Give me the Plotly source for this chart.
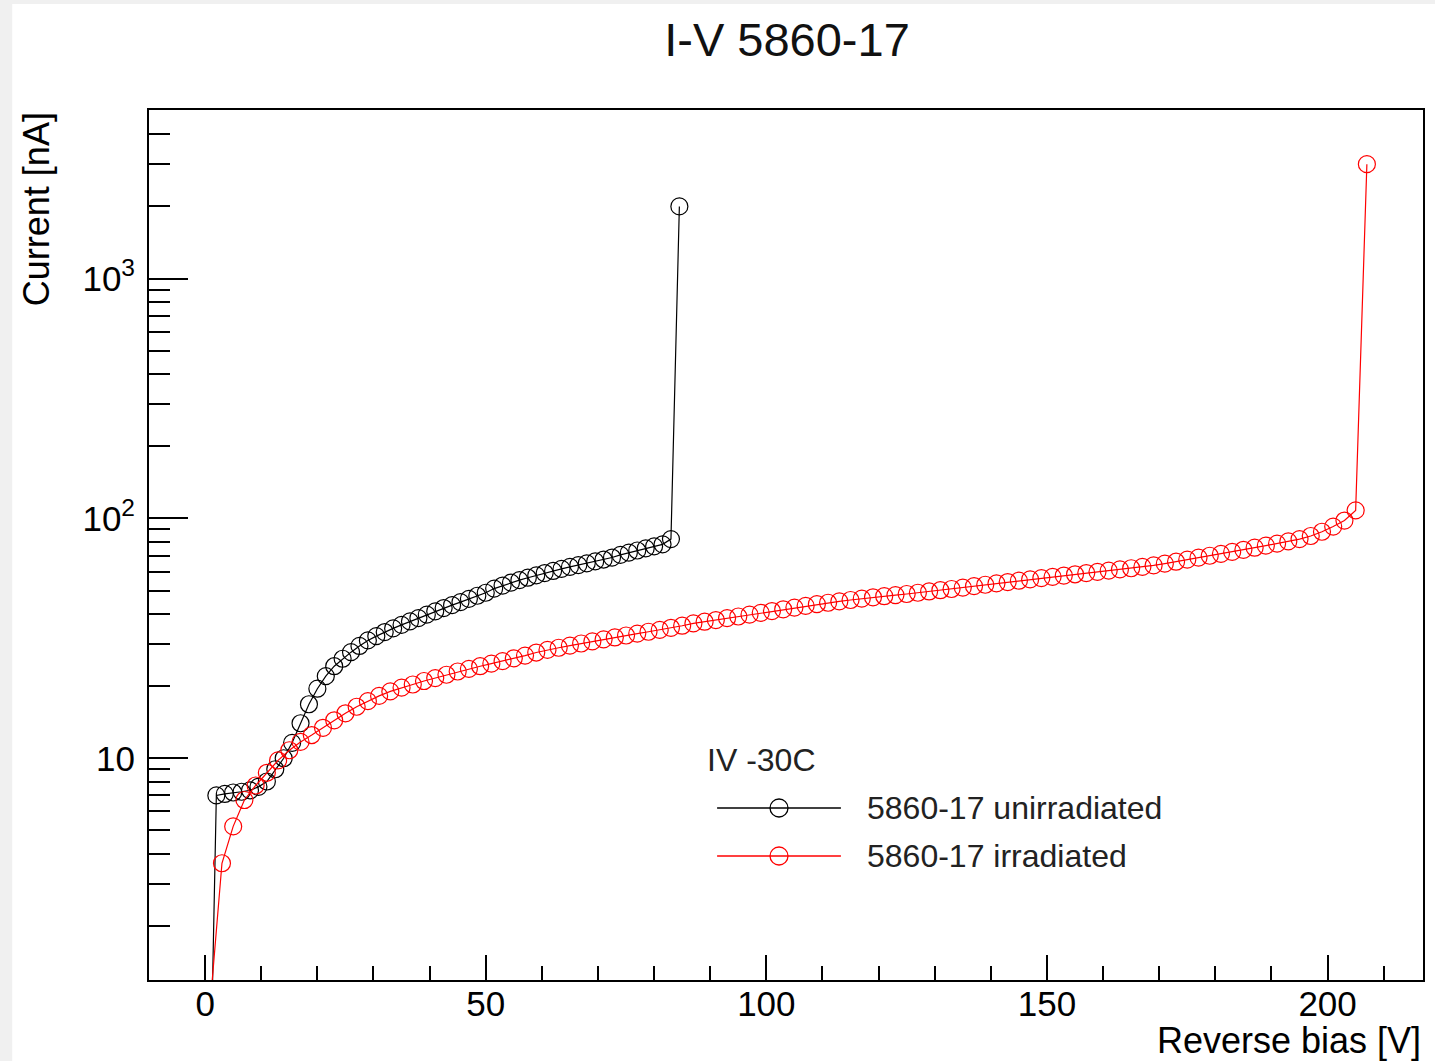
import plotly.graph_objects as go

# ---------------- data ----------------
v_unirr = [0.5, 2, 3.5, 5, 6.5, 8, 9.5, 11, 12.5, 14, 15.5, 17, 18.5, 20, 21.5, 23, 24.5, 26,
           27.5, 29, 30.5, 32, 33.5, 35, 36.5, 38, 39.5, 41, 42.5, 44, 45.5, 47, 48.5, 50,
           51.5, 53, 54.5, 56, 57.5, 59, 60.5, 62, 63.5, 65, 66.5, 68, 69.5, 71, 72.5, 74,
           75.5, 77, 78.5, 80, 81.5, 83, 84.5]
i_unirr = [0.13, 7.0, 7.1, 7.2, 7.25, 7.35, 7.6, 8.0, 9.0, 10.0, 11.6, 14.0, 16.8, 19.5, 22.0,
           24.2, 26.0, 27.7, 29.4, 31.0, 32.3, 33.6, 34.8, 36.0, 37.2, 38.4, 39.7, 41.0, 42.3,
           43.5, 44.8, 46.2, 47.6, 49.0, 51.0, 52.5, 54.0, 55.3, 56.6, 57.9, 59.2, 60.4, 61.6,
           62.8, 63.9, 65.0, 66.2, 67.4, 68.7, 70.5, 72.0, 73.5, 75.0, 76.5, 78.0, 82.0, 2000]

v_irr = [1, 3, 5, 7, 9, 11, 13, 15, 17, 19, 21, 23, 25, 27, 29, 31, 33, 35, 37, 39, 41, 43, 45,
         47, 49, 51, 53, 55, 57, 59, 61, 63, 65, 67, 69, 71, 73, 75, 77, 79, 81, 83, 85, 87, 89,
         91, 93, 95, 97, 99, 101, 103, 105, 107, 109, 111, 113, 115, 117, 119, 121, 123, 125,
         127, 129, 131, 133, 135, 137, 139, 141, 143, 145, 147, 149, 151, 153, 155, 157, 159,
         161, 163, 165, 167, 169, 171, 173, 175, 177, 179, 181, 183, 185, 187, 189, 191, 193,
         195, 197, 199, 201, 203, 205, 207]
i_irr = [1.0, 3.65, 5.2, 6.7, 7.7, 8.7, 9.8, 10.8, 11.7, 12.5, 13.4, 14.4, 15.4, 16.4, 17.3,
         18.2, 19.0, 19.7, 20.3, 21.0, 21.6, 22.3, 23.0, 23.6, 24.2, 24.8, 25.4, 26.1, 26.8,
         27.6, 28.3, 28.9, 29.5, 30.1, 30.7, 31.3, 31.9, 32.5, 33.1, 33.7, 34.3, 35.0, 35.7,
         36.5, 37.1, 37.7, 38.4, 39.0, 39.7, 40.4, 41.1, 41.8, 42.5, 43.2, 43.9, 44.5, 45.1,
         45.7, 46.3, 46.9, 47.4, 47.9, 48.4, 49.0, 49.6, 50.2, 50.8, 51.5, 52.2, 52.9, 53.6,
         54.3, 55.0, 55.7, 56.4, 57.1, 57.8, 58.5, 59.2, 59.9, 60.6, 61.3, 62.0, 62.8, 63.7,
         64.8, 66.0, 67.3, 68.6, 69.9, 71.2, 72.5, 74.0, 75.5, 77.0, 78.5, 80.2, 82.0, 84.5,
         88.0, 92.5, 98.0, 108, 3000]

x_major = [0, 50, 100, 150, 200]
x_major_text = ["0", "50", "100", "150", "200"]
y_major = [10, 100, 1000]
y_major_text = ["10", "10<sup>2</sup>", "10<sup>3</sup>"]
y_minor = [2, 3, 4, 5, 6, 7, 8, 9, 20, 30, 40, 50, 60, 70, 80, 90,
           200, 300, 400, 500, 600, 700, 800, 900, 2000, 3000, 4000, 5000]

title_text = "I-V 5860-17"
x_title = "Reverse bias [V]"
y_title = "Current [nA]"
legend_header = "IV -30C"
names = ["5860-17 unirradiated", "5860-17 irradiated"]
colors = ["black", "#ff0000"]

# ---------------- figure ----------------
W, H = 1435, 1061
L, R, T, B = 149, 10, 110, 81
FONT = "Liberation Sans, Arial, Helvetica, sans-serif"

fig = go.Figure()
for v, i, n, c in [(v_unirr, i_unirr, names[0], colors[0]), (v_irr, i_irr, names[1], colors[1])]:
    fig.add_trace(go.Scatter(
        x=v, y=i, name=n, mode="lines+markers",
        line=dict(color=c, width=1.2),
        marker=dict(symbol="circle-open", size=17, color=c, line=dict(width=1.2, color=c)),
        showlegend=False,
    ))

def px_x(p):
    return (p - L) / (W - L - R)

def px_y(p):
    return (H - B - p) / (H - T - B)

# custom legend (ROOT style)
annotations = [
    dict(text=legend_header, x=px_x(706), y=px_y(760), xref="paper", yref="paper",
         xanchor="left", yanchor="middle", showarrow=False,
         font=dict(family=FONT, size=32, color="#222")),
]
shapes = [
    # white canvas over gray frame
    dict(type="rect", xref="paper", yref="paper", layer="below",
         x0=px_x(12), x1=px_x(W + 5), y0=px_y(H + 5), y1=px_y(4),
         line=dict(width=0), fillcolor="white"),
]
for k, (n, c) in enumerate(zip(names, colors)):
    yy = 808 + 48 * k
    shapes.append(dict(type="line", xref="paper", yref="paper",
                       x0=px_x(718), x1=px_x(842), y0=px_y(yy), y1=px_y(yy),
                       line=dict(color=c, width=1.5)))
    shapes.append(dict(type="circle", xref="paper", yref="paper",
                       x0=px_x(771), x1=px_x(789), y0=px_y(yy + 9), y1=px_y(yy - 9),
                       line=dict(color=c, width=1.3), fillcolor="rgba(0,0,0,0)"))
    annotations.append(dict(text=n, x=px_x(866), y=px_y(yy), xref="paper", yref="paper",
                            xanchor="left", yanchor="middle", showarrow=False,
                            font=dict(family=FONT, size=32, color="#222")))

annotations.append(dict(text=y_title, textangle=-90, x=px_x(36), y=1.0,
                        xref="paper", yref="paper", xanchor="center", yanchor="top",
                        showarrow=False, font=dict(family=FONT, size=36, color="black")))
annotations.append(dict(text=x_title, x=1.0, y=px_y(1040), xref="paper", yref="paper",
                        xanchor="right", yanchor="middle", showarrow=False,
                        font=dict(family=FONT, size=36, color="black")))

fig.update_layout(
    width=W, height=H,
    margin=dict(l=L, r=R, t=T, b=B),
    paper_bgcolor="#f0f0f0",
    plot_bgcolor="white",
    title=dict(text=title_text, x=787 / W, xref="container", xanchor="center",
               y=1 - 40 / H, yref="container", yanchor="middle",
               font=dict(family=FONT, size=47, color="#111")),
    annotations=annotations,
    shapes=shapes,
    showlegend=False,
)

fig.update_xaxes(
    range=[-10, 217], showgrid=False, zeroline=False,
    showline=True, linecolor="black", linewidth=2, mirror=True,
    tickmode="array", tickvals=x_major, ticktext=x_major_text,
    ticks="inside", ticklen=25, tickwidth=1.5, tickcolor="black",
    tickfont=dict(family=FONT, size=35, color="black"),
    ticklabelstandoff=-8,
    minor=dict(dtick=10, tick0=0, ticks="inside", ticklen=14, tickwidth=1.5, tickcolor="black",
               showgrid=False),
)
fig.update_yaxes(
    type="log", range=[0.0755, 3.703], showgrid=False, zeroline=False,
    showline=True, linecolor="black", linewidth=2, mirror=True,
    tickmode="array", tickvals=y_major, ticktext=y_major_text,
    ticks="inside", ticklen=39, tickwidth=1.5, tickcolor="black",
    tickfont=dict(family=FONT, size=35, color="black"),
    ticklabelstandoff=5,
    minor=dict(tickmode="array", tickvals=y_minor, ticks="inside", ticklen=21,
               tickwidth=1.5, tickcolor="black", showgrid=False),
)

fig.write_html("out.html")
